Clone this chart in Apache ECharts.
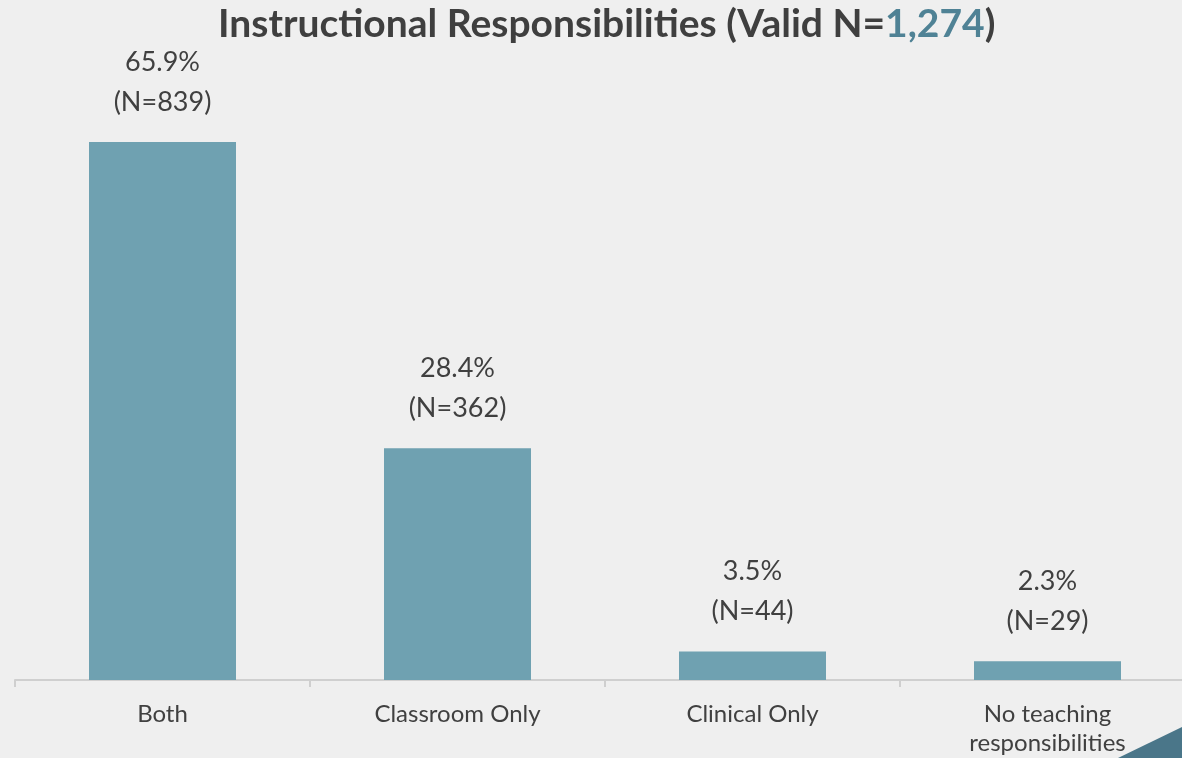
<!DOCTYPE html>
<html>
<head>
<meta charset="utf-8">
<script src="https://cdn.jsdelivr.net/npm/echarts@6/dist/echarts.min.js"></script>
<style>
html,body{margin:0;padding:0;background:#efefef;}
#c{width:1182px;height:758px;}
</style>
</head>
<body>
<div id="c"></div>
<script>
const categories = ['Both', 'Classroom Only', 'Clinical Only', 'No teaching\nresponsibilities'];
const percents = [65.9, 28.4, 3.5, 2.3];
const counts = [839, 362, 44, 29];
const validN = '1,274';

const chart = echarts.init(document.getElementById('c'));
chart.setOption({
  backgroundColor: '#efefef',
  animation: false,
  title: {
    text: 'Instructional Responsibilities (Valid N={n|' + validN + '})',
    left: 213,
    top: 0,
    textStyle: {
      fontFamily: 'Lato',
      fontWeight: 'bold',
      fontSize: 39,
      color: '#3f3f3f',
      rich: {
        n: { fontFamily: 'Lato', fontWeight: 'bold', fontSize: 39, color: '#4f8295' }
      }
    }
  },
  grid: { left: 15, width: 1180, top: 108.5, bottom: 78, outerBoundsMode: 'none', containLabel: false },
  xAxis: {
    type: 'category',
    data: categories,
    axisLine: { lineStyle: { color: '#cfcfcf', width: 2 } },
    axisTick: { show: true, length: 7, lineStyle: { color: '#cfcfcf', width: 2 } },
    axisLabel: { fontFamily: 'Lato', fontSize: 24, color: '#404040', margin: 20, lineHeight: 29, interval: 0 }
  },
  yAxis: {
    type: 'value', min: 0, max: 70, show: false, splitLine: { show: false }
  },
  series: [{
    type: 'bar',
    data: percents,
    barWidth: 147,
    itemStyle: { color: '#6fa1b1' },
    label: {
      show: true,
      position: 'top',
      distance: 20,
      fontFamily: 'Lato',
      fontSize: 27,
      lineHeight: 40,
      color: '#404040',
      formatter: p => p.value.toFixed(1) + '%\n(N=' + counts[p.dataIndex] + ')'
    }
  }],
  graphic: [{
    type: 'polygon',
    shape: { points: [[1118, 758], [1182, 727], [1182, 758]] },
    style: { fill: '#4a7689' },
    z: 100
  }]
});
</script>
</body>
</html>
